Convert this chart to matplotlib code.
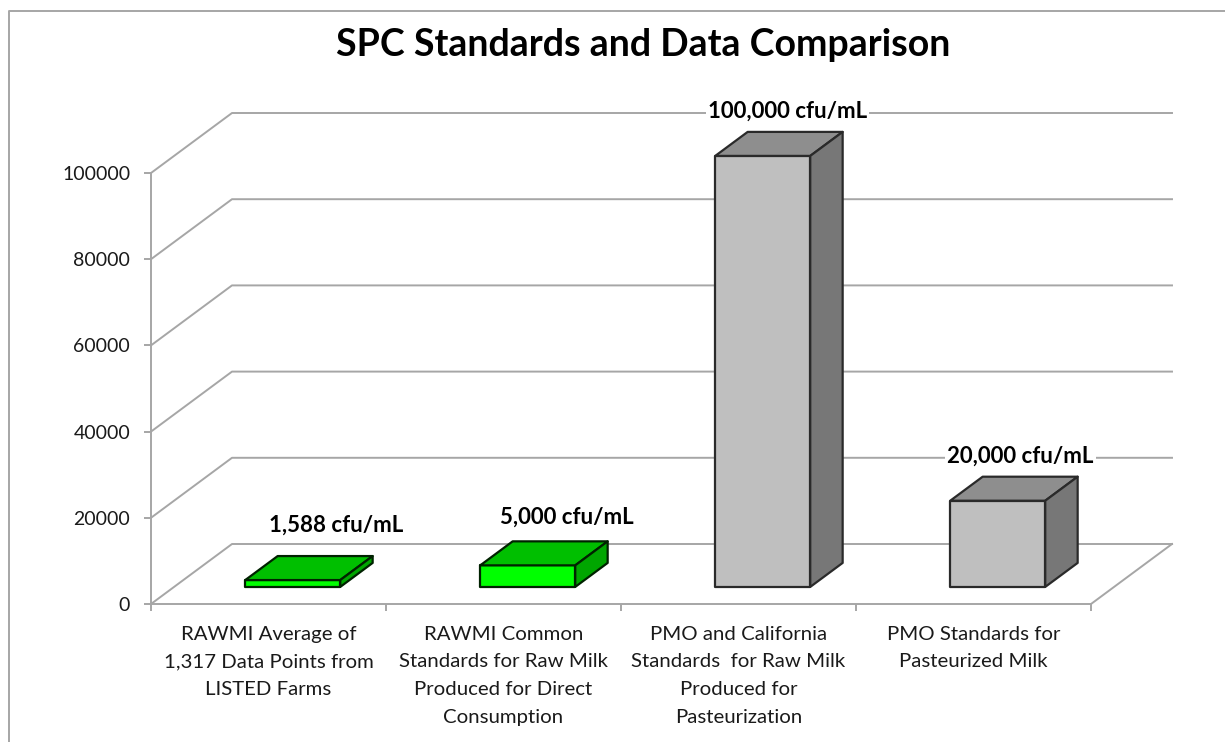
import matplotlib
matplotlib.use("Agg")
import matplotlib.pyplot as plt
from matplotlib.lines import Line2D

categories = [
    "RAWMI Average of\n1,317 Data Points from\nLISTED Farms",
    "RAWMI Common\nStandards for Raw Milk\nProduced for Direct\nConsumption",
    "PMO and California\nStandards  for Raw Milk\nProduced for\nPasteurization",
    "PMO Standards for\nPasteurized Milk",
]
values = [1588, 5000, 100000, 20000]
value_labels = ["1,588 cfu/mL", "5,000 cfu/mL", "100,000 cfu/mL", "20,000 cfu/mL"]
y_ticks = [0, 20000, 40000, 60000, 80000, 100000]

greens = ("#00FF00", "#00BF00", "#00A600")
grays = ("#BFBFBF", "#8E8E8E", "#777777")
bar_colors = [greens, greens, grays, grays]
bar_edges = ["#002200", "#002200", "#2A2A2A", "#2A2A2A"]
# label offset from the front-top centre of each bar, in pixels
label_offsets = [(45, 55), (40, 48), (26, 45), (24, 44)]

W, H = 1225, 742
DPI = 100
GRID = "#A6A6A6"

plt.rcParams["font.family"] = ["Lato", "DejaVu Sans"]

fig = plt.figure(figsize=(W / DPI, H / DPI), dpi=DPI, facecolor="white")
ax = fig.add_axes([151 / W, (H - 604) / H, 940 / W, 431 / H])
ax.set_xlim(0, len(categories))
ax.set_ylim(0, 100000)
ax.patch.set_alpha(0)

# one depth unit in data coordinates (81 px right, 60 px up)
depth_x = 81 / (940 / len(categories))
depth_y = 60 / 431 * 100000


def proj(x, v, d):
    return x + d * depth_x, v + d * depth_y


# walls and floor
for v in y_ticks:
    x0, y0 = proj(0, v, 1)
    x1, y1 = proj(len(categories), v, 1)
    ax.plot([0, x0, x1], [v, y0, y1], color=GRID, lw=1.4, clip_on=False, zorder=1)
x0, y0 = proj(len(categories), 0, 1)
ax.plot([len(categories), x0], [0, y0], color=GRID, lw=1.4, clip_on=False, zorder=1)

# bars
bar_w = 95 / 235
d0, d1 = 0.285, 0.685
for i, v in enumerate(values):
    front, top, side = bar_colors[i]
    edge = bar_edges[i]
    xl = i + 0.505 - bar_w / 2
    xr = xl + bar_w
    faces = [
        ([(xl, 0, d0), (xr, 0, d0), (xr, v, d0), (xl, v, d0)], front),
        ([(xl, v, d0), (xr, v, d0), (xr, v, d1), (xl, v, d1)], top),
        ([(xr, 0, d0), (xr, 0, d1), (xr, v, d1), (xr, v, d0)], side),
    ]
    for pts, color in faces:
        xy = [proj(*p) for p in pts]
        ax.fill([p[0] for p in xy], [p[1] for p in xy], facecolor=color,
                edgecolor=edge, lw=1.6, joinstyle="round", clip_on=False, zorder=3)

    tx, ty = proj(i + 0.5, v, d0)
    ax.annotate(value_labels[i], (tx, ty), xytext=label_offsets[i],
                textcoords="offset pixels", ha="center", va="center",
                fontsize=16, fontweight="bold", color="black", zorder=4,
                annotation_clip=False,
                bbox=dict(facecolor="white", edgecolor="none", pad=1.5))

# axes
for name in ("top", "right"):
    ax.spines[name].set_visible(False)
for name in ("left", "bottom"):
    ax.spines[name].set_color(GRID)
    ax.spines[name].set_linewidth(1.4)
ax.set_yticks(y_ticks)
ax.set_xticks(range(len(categories) + 1))
ax.set_xticks([i + 0.5 for i in range(len(categories))], minor=True)
ax.set_xticklabels([])
ax.set_xticklabels(categories, minor=True, linespacing=1.78)
ax.tick_params(axis="both", which="major", color=GRID, width=1.4, length=5,
               labelsize=14, labelcolor="#1a1a1a", pad=10)
ax.tick_params(axis="x", which="minor", length=0, labelsize=14.7,
               labelcolor="#1a1a1a", pad=15.5)
for t in ax.get_xticklabels(minor=True):
    t.set_verticalalignment("top")

fig.text(643 / W, 1 - 45 / H, "SPC Standards and Data Comparison", ha="center",
         va="center", fontsize=27, fontweight="bold", color="black")

# outer chart frame, runs off the right and bottom of the picture
fig.add_artist(Line2D([9 / W, 9 / W, 1], [0, 1 - 11 / H, 1 - 11 / H], color=GRID, lw=1.4))

fig.savefig("out.png", dpi=DPI)
